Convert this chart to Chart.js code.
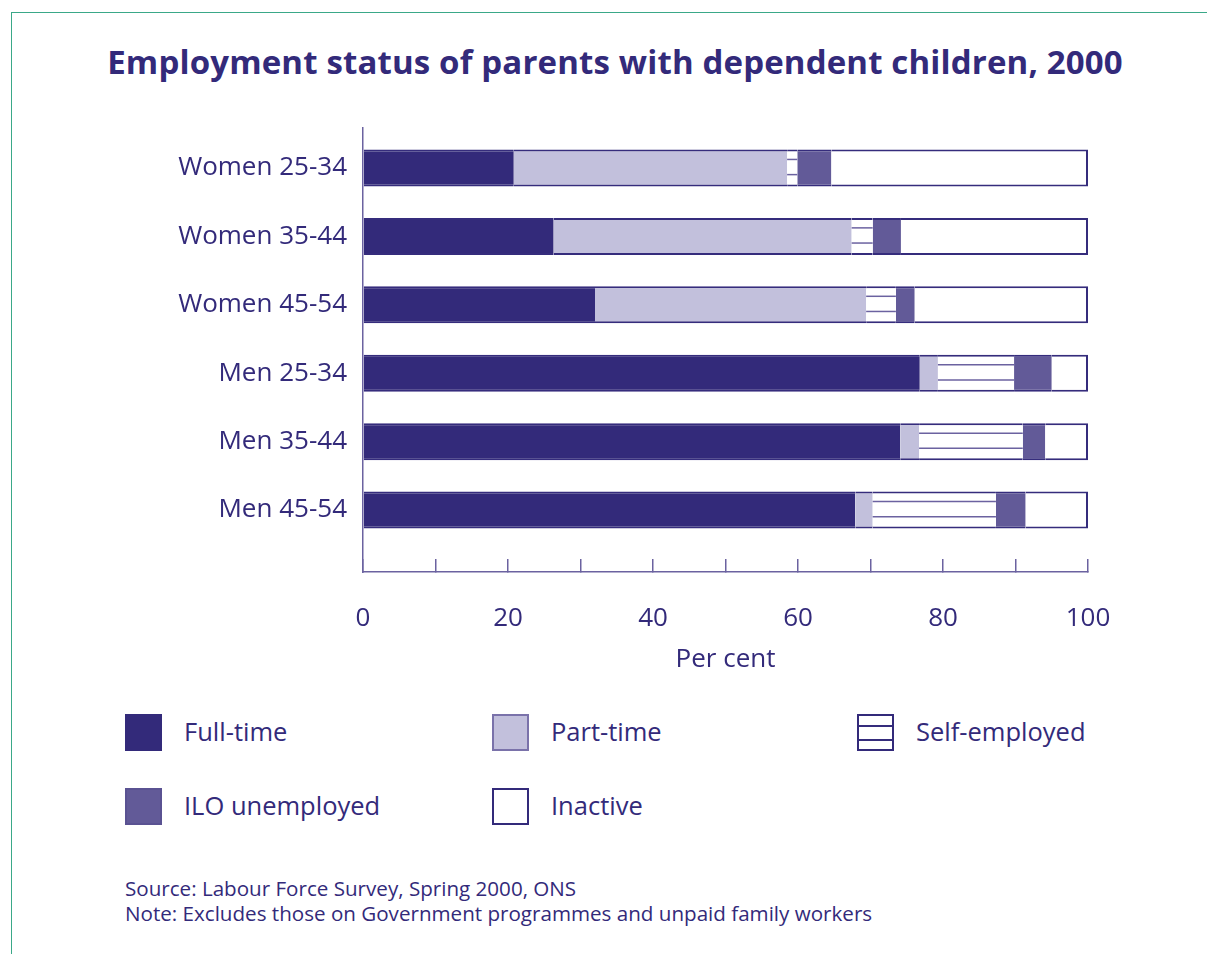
<!DOCTYPE html>
<html>
<head>
<meta charset="utf-8">
<script src="https://cdn.jsdelivr.net/npm/chart.js@4/dist/chart.umd.min.js"></script>
<style>
  body { margin: 0; background: #fff; }
  #page { position: relative; width: 1207px; height: 954px; overflow: hidden; font-family: "Open Sans", sans-serif; color: #332a7a; }
  #frame { position: absolute; left: 11px; top: 12px; right: -5px; bottom: -5px; border-left: 1.5px solid #3aa888; border-top: 1.5px solid #3aa888; }
  #title { position: absolute; left: 0; width: 1230px; top: 39px; text-align: center; font-weight: 700; font-size: 33px; letter-spacing: 0.15px; }
  #chart { position: absolute; left: 0; top: 0; }
  .item { position: absolute; font-size: 25.5px; line-height: 37px; }
  .item .sw { position: absolute; left: 0; top: 0; width: 33px; height: 33px; border: 2px solid #332a7a; }
  .item span { position: absolute; left: 59px; top: -1px; white-space: nowrap; }
  #source { position: absolute; left: 125px; top: 876px; font-size: 20.6px; line-height: 25px; }
</style>
</head>
<body>
<div id="page">
  <div id="frame"></div>
  <div id="title">Employment status of parents with dependent children, 2000</div>
  <canvas id="chart" width="1207" height="700"></canvas>
  <div id="legend"></div>
  <div id="source">Source: Labour Force Survey, Spring 2000, ONS<br>Note: Excludes those on Government programmes and unpaid family workers</div>
</div>
<script>
var categories = ["Women 25-34", "Women 35-44", "Women 45-54", "Men 25-34", "Men 35-44", "Men 45-54"];
var fullTime = [20.8, 26.3, 32.0, 76.8, 74.1, 67.9];
var partTime = [37.7, 41.1, 37.4, 2.5, 2.6, 2.4];
var selfEmployed = [1.4, 2.9, 4.1, 10.5, 14.3, 17.0];
var iloUnemployed = [4.7, 3.9, 2.6, 5.2, 3.1, 4.1];
var inactive = [35.4, 25.8, 23.9, 5.0, 5.9, 8.6];
var seriesNames = ["Full-time", "Part-time", "Self-employed", "ILO unemployed", "Inactive"];

var fills = ["#332a7a", "#c2c0dc", "#ffffff", "#625a98", "#ffffff"];
var edge = "#352c7c";
var lineCol = "#6b62a0";

var toPoints = function(vals) {
  return vals.map((v, i) => ({ x: v, y: i }));
};

var allSeries = [fullTime, partTime, selfEmployed, iloUnemployed, inactive];
var datasets = allSeries.map((vals, k) => ({
  label: seriesNames[k],
  data: toPoints(vals),
  backgroundColor: fills[k],
  borderColor: edge,
  borderWidth: { top: 2, bottom: 2, left: 0, right: k === 4 ? 2 : 0 },
  borderSkipped: false,
  inflateAmount: 0,
  barThickness: 37
}));

// horizontal stripes on the self-employed segments
var stripes = {
  id: "stripes",
  afterDatasetsDraw: function(chart) {
    var ctx = chart.ctx;
    var meta = chart.getDatasetMeta(2);
    ctx.save();
    ctx.strokeStyle = lineCol;
    ctx.lineWidth = 1.5;
    meta.data.forEach(el => {
      var p = el.getProps(["x", "y", "base", "height"], true);
      var top = p.y - p.height / 2;
      [0.27, 0.68].forEach(f => {
        var yy = top + p.height * f;
        ctx.beginPath();
        ctx.moveTo(Math.min(p.base, p.x), yy);
        ctx.lineTo(Math.max(p.base, p.x), yy);
        ctx.stroke();
      });
    });
    ctx.restore();
  }
};

var txtFont = { family: "Open Sans", size: 26 };

new Chart(document.getElementById("chart"), {
  type: "bar",
  data: { datasets: datasets },
  plugins: [stripes],
  options: {
    indexAxis: "y",
    responsive: false,
    animation: false,
    devicePixelRatio: 1,
    layout: { padding: { left: 0, right: 119, top: 128, bottom: 0 } },
    plugins: { legend: { display: false }, tooltip: { enabled: false } },
    scales: {
      x: {
        type: "linear",
        stacked: true,
        min: 0,
        max: 100,
        ticks: {
          stepSize: 10,
          color: "#332a7a",
          font: txtFont,
          padding: 44,
          maxRotation: 0,
          autoSkip: false,
          callback: v => (v % 20 === 0 ? v : "")
        },
        grid: { drawOnChartArea: false, tickLength: -13, color: lineCol, lineWidth: 1.5 },
        border: { color: lineCol, width: 1.5 },
        title: { display: true, text: "Per cent", color: "#332a7a", font: txtFont, padding: { top: 0, bottom: 25 } },
        afterFit: s => { s.height = 128; }
      },
      y: {
        type: "linear",
        stacked: true,
        reverse: true,
        offset: false,
        min: -0.584,
        max: 5.905,
        afterBuildTicks: s => { s.ticks = categories.map((c, i) => ({ value: i })); },
        ticks: {
          color: "#332a7a",
          font: txtFont,
          padding: 8,
          autoSkip: false,
          callback: v => categories[v]
        },
        grid: { display: false, offset: false },
        border: { color: lineCol, width: 1.5 },
        afterFit: s => { s.width = 363; }
      }
    }
  }
});

// legend built from the series
var legendPos = [[125, 714], [492, 714], [857, 714], [125, 788], [492, 788]];
var swBorder = ["#332a7a", "#7a72aa", "#332a7a", "#5a5292", "#332a7a"];
var lg = document.getElementById("legend");
seriesNames.forEach((name, k) => {
  var it = document.createElement("div");
  it.className = "item";
  it.style.left = legendPos[k][0] + "px";
  it.style.top = legendPos[k][1] + "px";
  var sw = document.createElement("div");
  sw.className = "sw";
  sw.style.background = fills[k];
  sw.style.borderColor = swBorder[k];
  if (k === 2) {
    sw.style.background = "linear-gradient(to bottom, #fff 0, #fff 9px, " + edge + " 9px, " + edge + " 11px, #fff 11px, #fff 23px, " + edge + " 23px, " + edge + " 25px, #fff 25px)";
  }
  var sp = document.createElement("span");
  sp.textContent = name;
  it.appendChild(sw);
  it.appendChild(sp);
  lg.appendChild(it);
});
</script>
</body>
</html>
